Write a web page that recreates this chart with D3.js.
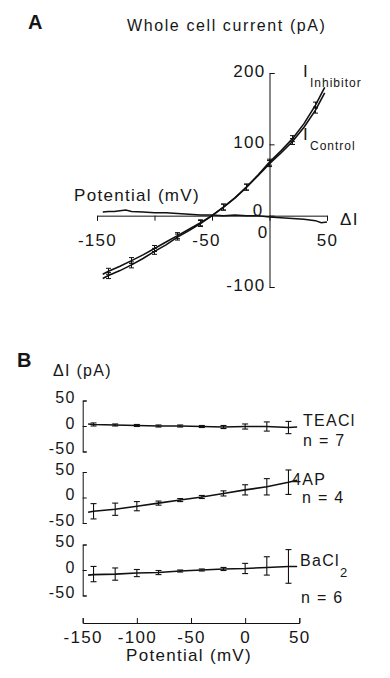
<!DOCTYPE html>
<html><head><meta charset="utf-8">
<script src="https://cdn.jsdelivr.net/npm/d3@7"></script>
<style>
body{margin:0;background:#fff}
svg{display:block;background:#fff}
text{font-family:"Liberation Sans",Arial,sans-serif;fill:#161616;letter-spacing:1.3px}
.tk text{font-size:17px}
.tkb text{font-size:16px}
.tkbx text{font-size:17px}
.axis path,.axis line{stroke:#111;stroke-width:1}
</style></head><body>
<svg id="c" width="390" height="678"></svg>
<script>
// ---------- Panel A data ----------
const potentialA   = [-145,-140,-130,-120,-110,-100,-90,-80,-70,-60,-50,-40,-30,-20,-10,0,10,20,30,40,48];
const iControl     = [-82,-78,-71,-63,-55,-46,-37,-28,-19,-10,0,12,25,40,56,73,88,104,124,148,172];
const iInhibitor   = [-88,-84,-77,-69,-60,-50,-41,-30,-21,-11,0,12,25,40,57,75,91,108,129,155,180];
const deltaPotA    = [-145,-140,-135,-130,-125,-120,-110,-100,-90,-80,-70,-60,-50,-40,-30,-20,-10,0,10,20,30,40,45,50];
const deltaIA      = [5,6,6,7,8,6,5,4,4,3,2,1,1,0,1,0,0,-2,-3,-4,-5,-7,-10,-9];
const markerPotA   = [-140,-120,-100,-80,-60,-40,-20,0,20,40];
const xTicksA      = [-150,-100,-50,0,50];
const yTicksA      = [-100,0,100,200];

// ---------- Panel B data ----------
const potentialB   = [-140,-120,-100,-80,-60,-40,-20,0,20,40];
const tracePotB    = [-145,-140,-120,-100,-80,-60,-40,-20,0,20,40,48];
const teaMean      = [3,2,1,0,0,-1,-2,-1,-1,-3];
const teaErr       = [3,2,2,2,2,2,3,5,9,12];
const teaTrace     = [4,3,2,1,0,0,-1,-2,-1,-1,-3,-2];
const apMean       = [-27,-23,-17,-11,-5,1,8,15,21,30];
const apErr        = [15,12,9,4,3,3,5,10,16,24];
const apTrace      = [-29,-27,-23,-17,-11,-5,1,8,15,21,30,34];
const baMean       = [-8,-8,-6,-5,-2,0,2,3,8,7];
const baErr        = [15,12,7,4,2,2,3,10,18,33];
const baTrace      = [-10,-9,-8,-6,-5,-2,0,2,3,5,7,7];
const seriesNames  = ["TEACl","4AP","BaCl"];
const seriesN      = ["n = 7","n = 4","n = 6"];
const xTicksB      = [-150,-100,-50,0,50];
const yTicksB      = [-50,0,50];

const svg = d3.select("#c");
const fmt = d => String(d);   // plain hyphen-minus as in the reference

// ================= Panel A =================
const xA = d3.scaleLinear().domain([-150,50]).range([97,327]);
const yA = d3.scaleLinear().domain([-100,200]).range([287,73]);

const gxA = svg.append("g").attr("class","axis tk")
  .attr("transform",`translate(0,${yA(0)})`)
  .call(d3.axisBottom(xA).tickValues(xTicksA).tickSize(5).tickSizeOuter(5)
        .tickFormat(d => d === -100 ? "" : fmt(d)));
gxA.selectAll(".tick text").attr("y",18).attr("dy","0.71em")
  .each(function(d){
    const t = d3.select(this);
    if (d === -50) t.attr("dx",-6);
    if (d === 0) t.attr("dx",-7).attr("y",10);
  });

const gyA = svg.append("g").attr("class","axis tk")
  .attr("transform",`translate(${xA(0)},0)`)
  .call(d3.axisLeft(yA).tickValues(yTicksA).tickSize(-5).tickSizeOuter(-5).tickFormat(fmt));
gyA.selectAll(".tick text").attr("x",-4).attr("dy","3px")
  .each(function(d){ if (d === 0) d3.select(this).attr("x",-6).attr("dy","0px"); });

const lineA = d3.line().x(d => xA(d[0])).y(d => yA(d[1]));
svg.append("path").datum(potentialA.map((v,i)=>[v,iControl[i]]))
  .attr("d",lineA).attr("fill","none").attr("stroke","#111").attr("stroke-width",1.6);
svg.append("path").datum(potentialA.map((v,i)=>[v,iInhibitor[i]]))
  .attr("d",lineA).attr("fill","none").attr("stroke","#111").attr("stroke-width",1.6);
svg.append("path").datum(deltaPotA.map((v,i)=>[v,deltaIA[i]]))
  .attr("d",lineA).attr("fill","none").attr("stroke","#111").attr("stroke-width",1.5);

// small error markers on both I-V curves
[iControl,iInhibitor].forEach(arr => {
  markerPotA.forEach(v => {
    const i = potentialA.indexOf(v);
    const cx = xA(v), cy = yA(arr[i]);
    const g = svg.append("g").attr("stroke","#111").attr("stroke-width",1);
    g.append("line").attr("x1",cx).attr("x2",cx).attr("y1",cy-3).attr("y2",cy+3);
    g.append("line").attr("x1",cx-2.5).attr("x2",cx+2.5).attr("y1",cy-3).attr("y2",cy-3);
    g.append("line").attr("x1",cx-2.5).attr("x2",cx+2.5).attr("y1",cy+3).attr("y2",cy+3);
  });
});

// Panel A texts
svg.append("text").attr("x",28).attr("y",29).attr("font-size",20).attr("font-weight","bold").text("A");
svg.append("text").attr("x",127).attr("y",31).attr("font-size",16).style("letter-spacing","1.6px").text("Whole cell current (pA)");
svg.append("text").attr("x",74).attr("y",201).attr("font-size",17).text("Potential (mV)");
svg.append("text").attr("x",340).attr("y",225).attr("font-size",17).text("\u0394I");
svg.append("text").attr("x",303).attr("y",77).attr("font-size",17).text("I");
svg.append("text").attr("x",310).attr("y",87).attr("font-size",12).style("letter-spacing","1px").text("Inhibitor");
svg.append("text").attr("x",303).attr("y",140).attr("font-size",17).text("I");
svg.append("text").attr("x",310).attr("y",150).attr("font-size",12).style("letter-spacing","1px").text("Control");

// ================= Panel B =================
const xB = d3.scaleLinear().domain([-150,50]).range([82.7,299.3]);
const panelTops = [400.5,472,544.5];
const panelH = 51;
const means  = [teaMean, apMean, baMean];
const errs   = [teaErr, apErr, baErr];
const traces = [teaTrace, apTrace, baTrace];

panelTops.forEach((top,k) => {
  const y = d3.scaleLinear().domain([-50,50]).range([top+panelH, top]);
  const gy = svg.append("g").attr("class","axis tkb")
    .attr("transform",`translate(${xB(-150)},0)`)
    .call(d3.axisLeft(y).tickValues(yTicksB).tickSize(-4).tickSizeOuter(-4).tickFormat(fmt));
  gy.selectAll(".tick text").attr("x",-7).attr("dy","2px");

  const line = d3.line().x(d => xB(d[0])).y(d => y(d[1]));
  svg.append("path").datum(tracePotB.map((v,i)=>[v,traces[k][i]]))
    .attr("d",line).attr("fill","none").attr("stroke","#111").attr("stroke-width",1.6);

  potentialB.forEach((v,i) => {
    const cx = xB(v), y1 = y(means[k][i]-errs[k][i]), y2 = y(means[k][i]+errs[k][i]);
    const g = svg.append("g").attr("stroke","#111").attr("stroke-width",1.1);
    g.append("line").attr("x1",cx).attr("x2",cx).attr("y1",y1).attr("y2",y2);
    g.append("line").attr("x1",cx-3).attr("x2",cx+3).attr("y1",y1).attr("y2",y1);
    g.append("line").attr("x1",cx-3).attr("x2",cx+3).attr("y1",y2).attr("y2",y2);
  });
});

const gxB = svg.append("g").attr("class","axis tkbx")
  .attr("transform","translate(0,623)")
  .call(d3.axisBottom(xB).tickValues(xTicksB).tickSize(-5).tickSizeOuter(-5).tickFormat(fmt));
gxB.selectAll(".tick text").attr("y",8).attr("dy","0.71em");

// Panel B texts
svg.append("text").attr("x",17).attr("y",367).attr("font-size",20).attr("font-weight","bold").text("B");
svg.append("text").attr("x",53).attr("y",376).attr("font-size",16).text("\u0394I (pA)");
svg.append("text").attr("x",303).attr("y",426).attr("font-size",16).text(seriesNames[0]);
svg.append("text").attr("x",303).attr("y",446).attr("font-size",16).text(seriesN[0]);
svg.append("text").attr("x",292).attr("y",485).attr("font-size",16).text(seriesNames[1]);
svg.append("text").attr("x",302).attr("y",503).attr("font-size",16).text(seriesN[1]);
const ba = svg.append("text").attr("x",300).attr("y",566).attr("font-size",16);
ba.append("tspan").text(seriesNames[2]);
ba.append("tspan").attr("dy",11).attr("font-size",13).text("2");
svg.append("text").attr("x",301).attr("y",603).attr("font-size",16).text(seriesN[2]);
svg.append("text").attr("x",189).attr("y",661).attr("font-size",17).attr("text-anchor","middle").text("Potential (mV)");
</script>
</body></html>
